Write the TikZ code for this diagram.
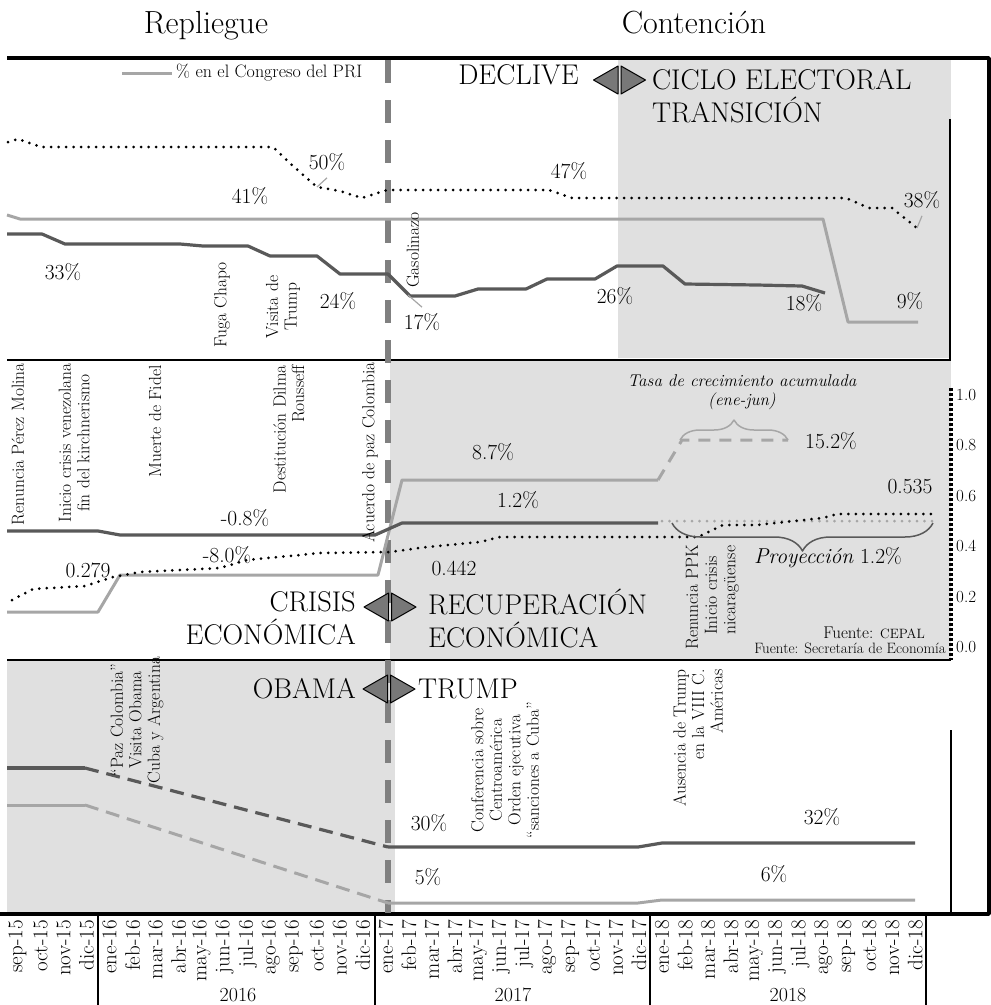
\documentclass[tikz,border=0pt]{standalone}
\usepackage{tikz}
\usetikzlibrary{decorations.pathreplacing}
\definecolor{fondo}{RGB}{224,224,224}
\definecolor{gris1}{RGB}{89,89,89}
\definecolor{gris2}{RGB}{166,166,166}
\definecolor{gris3}{RGB}{128,128,128}
\definecolor{flecha}{RGB}{120,120,120}

\begin{document}
\begin{tikzpicture}[x=1pt,y=-1pt,line join=round,
oscuro/.style={draw=gris1,line width=3.2pt},
claro/.style={draw=gris2,line width=3pt},
puntos/.style={line width=3pt,line cap=round,dash pattern=on 0pt off 7.5pt},
corte/.style={draw=gris3,line width=6pt,dash pattern=on 23pt off 17pt},
guia/.style={draw=gris2,line width=1.2pt},
num/.style={inner sep=0pt,font=\fontsize{21.5}{24}\selectfont},
rot/.style={rotate=90,inner sep=0pt,font=\fontsize{17.5}{18.5}\selectfont},
grande/.style={inner sep=0pt,font=\fontsize{28.5}{33}\selectfont},
mes/.style={rotate=90,anchor=east,inner sep=0pt,font=\fontsize{21}{21}\selectfont},
tri/.style={fill=flecha,draw=black,line width=1pt},
dostri/.pic={\filldraw[tri] (-1.5,-14) -- (-26,0) -- (-1.5,14) -- cycle;
\filldraw[tri] (1.5,-14) -- (26,0) -- (1.5,14) -- cycle;}]
\useasboundingbox (0,0) rectangle (991,1005);

\fill[fondo] (618,60) rectangle (951,358);
\fill[fondo] (390,361) rectangle (951,659);
\fill[fondo] (7,661) rectangle (395,913);

\node[anchor=base,font=\fontsize{32}{32}\selectfont] (rep) at (206,33) {Repliegue};
\node[anchor=base,font=\fontsize{32}{32}\selectfont] (con) at (694,33) {Contención};

\draw[line width=3.5pt] (7,58) -- (989,58) -- (989,914) -- (0,914);
\draw[line width=1.8pt] (7,360) -- (951,360);
\draw[line width=1.8pt] (7,660) -- (951,660);
\draw[line width=1.5pt] (950,119) -- (950,360);
\draw[line width=1.5pt] (951,730) -- (951,914);
\draw[line width=3.5pt,dash pattern=on 3pt off 2pt] (951,388) -- (951,660);
\draw[corte] (388,60) -- (388,913);

\draw[claro] (122,73) -- (172,73);
\node[anchor=west,inner sep=0pt,font=\fontsize{18}{18}\selectfont] (ley) at (176,73) {\% en el Congreso del PRI};

\draw[oscuro] (7,234) -- (42,234) -- (65,244) -- (180,244) -- (203,246) -- (248,246) -- (270,256) -- (317,256) -- (340,274) -- (388,274) -- (410,296) -- (455,296) -- (478,289) -- (526,289) -- (547,279) -- (595,279) -- (617,266) -- (663,266) -- (685,284) -- (757,285) -- (802,286) -- (825,293);
\draw[claro] (7,215) -- (20,219) -- (823,219) -- (848,322) -- (918,322);
\draw[puntos] (8,142) -- (18,139) -- (41,147) -- (273,147) -- (293,166) -- (317,187) -- (340,191) -- (362,198) -- (387,190) -- (549,190) -- (572,198) -- (846,198) -- (869,208) -- (892,208) -- (917,228);

\node[num] (t50) at (327,162) {50\%};
\node[num] (t41) at (250,196) {41\%};
\node[num] (t33) at (63,272) {33\%};
\node[num] (t24) at (338,301) {24\%};
\node[num] (t17) at (422,322) {17\%};
\node[num] (t47) at (569,171) {47\%};
\node[num] (t26) at (615,296) {26\%};
\node[num] (t18) at (804,303) {18\%};
\node[num] (t9) at (910,301) {9\%};
\node[num] (t38) at (922,200) {38\%};
\coordinate (c50) at (317,187);
\coordinate (c17) at (408,295);
\coordinate (c38) at (917,228);
\draw[guia] (c50) -- ([yshift=-7pt]t50.south);
\draw[guia] (c17) -- ([yshift=6pt]t17.north);
\draw[guia] (c38) -- ([yshift=-7pt]t38.south);

\node[rot] (gas) at (413,250) {Gasolinazo};
\node[rot] (fuga) at (222,305) {Fuga Chapo};
\node[rot,align=center] (vis) at (283,307) {Visita de\\Trump};

\node[grande,anchor=base east] (dec) at (579,84) {DECLIVE};
\node[grande,anchor=west,align=left] (cic) at (652,96) {CICLO ELECTORAL\\TRANSICIÓN};
\pic at (619.5,80) {dostri};

\draw[claro] (7,612) -- (98,612) -- (120,575) -- (378,575) -- (402,480) -- (658,480);
\draw[claro,dash pattern=on 12pt off 9pt] (658,480) -- (682,440) -- (788,440);
\draw[oscuro] (7,531) -- (98,531) -- (120,535) -- (375,535) -- (402,523) -- (658,523);
\draw[puntos,gris2] (662,521) -- (933,521);
\draw[puntos] (12,600) -- (33,589) -- (85,586) -- (113,577) -- (140,572) -- (220,568) -- (247,560) -- (300,555) -- (320,553) -- (390,552) -- (427,547) -- (480,542) -- (500,537) -- (698,537) -- (723,525) -- (757,525) -- (823,518) -- (837,514) -- (933,514);
\draw[gris2,line width=1.5pt,decorate,decoration={brace,amplitude=20pt}] (680,440) -- (788,440);
\draw[gris1,line width=1.5pt,decorate,decoration={brace,amplitude=28pt}] (933,523) -- (672,523);

\node[num] (m08) at (245,518) {-0.8\%};
\node[num] (m80) at (227,555) {-8.0\%};
\node[num] (m279) at (88,570) {0.279};
\node[num] (m442) at (454,568) {0.442};
\node[num] (m87) at (493,452) {8.7\%};
\node[num] (m12) at (518,500) {1.2\%};
\node[num] (m152) at (831,441) {15.2\%};
\node[num] (m535) at (910,487) {0.535};
\node[inner sep=0pt,align=center,font=\fontsize{17}{19}\selectfont\itshape] (tasa) at (742,392) {Tasa de crecimiento acumulada\\(ene-jun)};
\node[num] (proy) at (828,558) {\textit{Proyección} 1.2\%};

\node[rot,anchor=east] (ren) at (18,363) {Renuncia Pérez Molina};
\node[rot,anchor=east,align=center] (ven) at (74,363) {Inicio crisis venezolana\\fin del kirchnerismo};
\node[rot,anchor=east] (fid) at (155,365) {Muerte de Fidel};
\node[rot,anchor=east,align=right] (dil) at (289,365) {Destitución Dilma\\Rousseff};
\node[rot,anchor=east] (paz) at (370,362) {Acuerdo de paz Colombia};
\node[rot,anchor=west] (ppk) at (692,650) {Renuncia PPK};
\node[rot,anchor=west,align=left] (nic) at (722,635) {Inicio crisis\\nicaragüense};

\node[grande,anchor=east,align=right] (cri) at (356,618) {CRISIS\\ECONÓMICA};
\node[grande,anchor=west,align=left] (rec) at (428,618) {RECUPERACIÓN\\ECONÓMICA};
\pic at (390,607) {dostri};

\node[anchor=base east,inner sep=0pt,font=\fontsize{17}{17}\selectfont] (f1) at (925,638) {Fuente: {\fontsize{13.5}{13.5}\selectfont CEPAL}};
\node[anchor=base east,inner sep=0pt,font=\fontsize{15}{15}\selectfont] (f2) at (946,653) {Fuente: Secretaría de Economía};
\foreach \v [count=\i from 0] in {1.0,0.8,0.6,0.4,0.2,0.0}
  \node[anchor=west,inner sep=0pt,font=\fontsize{17}{17}\selectfont] (e\i) at (956,395+50.4*\i) {\v};

\draw[oscuro] (7,768) -- (85,768);
\draw[oscuro,dash pattern=on 14pt off 8pt] (85,768) -- (388,847);
\draw[oscuro] (388,847) -- (638,847) -- (662,843) -- (915,843);
\draw[claro] (7,805) -- (85,805);
\draw[claro,dash pattern=on 14pt off 8pt] (85,805) -- (388,903);
\draw[claro] (388,903) -- (638,903) -- (662,900) -- (915,900);

\node[num] (b30) at (429,823) {30\%};
\node[num] (b5) at (428,877) {5\%};
\node[num] (b32) at (822,817) {32\%};
\node[num] (b6) at (774,874) {6\%};

\node[grande,anchor=east] (oba) at (356,689) {OBAMA};
\node[grande,anchor=west] (tru) at (418,689) {TRUMP};
\pic at (389,689) {dostri};

\node[rot,align=center] (pco) at (137,720) {“Paz Colombia”\\Visita Obama\\Cuba y Argentina};
\node[rot,align=center] (cen) at (505,770) {Conferencia sobre\\Centroamérica\\Orden ejecutiva\\“sanciones a Cuba”};
\node[rot,anchor=east,align=right] (aus) at (698,669) {Ausencia de Trump\\en la VIII C.\\Américas};

\foreach \m [count=\i from 0] in {sep-15,oct-15,nov-15,dic-15,ene-16,feb-16,mar-16,abr-16,may-16,jun-16,jul-16,ago-16,sep-16,oct-16,nov-16,dic-16,ene-17,feb-17,mar-17,abr-17,may-17,jun-17,jul-17,ago-17,sep-17,oct-17,nov-17,dic-17,ene-18,feb-18,mar-18,abr-18,may-18,jun-18,jul-18,ago-18,sep-18,oct-18,nov-18,dic-18}
  \node[mes] (mes\i) at (17.5+23.02*\i,920) {\m};
\draw[line width=1.5pt] (98,914) -- (98,1005);
\draw[line width=1.5pt] (375,914) -- (375,1005);
\draw[line width=1.5pt] (650,914) -- (650,1005);
\draw[line width=1.5pt] (926,914) -- (926,1005);
\node[anchor=base,inner sep=0pt,font=\fontsize{20}{20}\selectfont] (a16) at (238,1001) {2016};
\node[anchor=base,inner sep=0pt,font=\fontsize{20}{20}\selectfont] (a17) at (513,1001) {2017};
\node[anchor=base,inner sep=0pt,font=\fontsize{20}{20}\selectfont] (a18) at (788,1001) {2018};
\end{tikzpicture}
\end{document}
